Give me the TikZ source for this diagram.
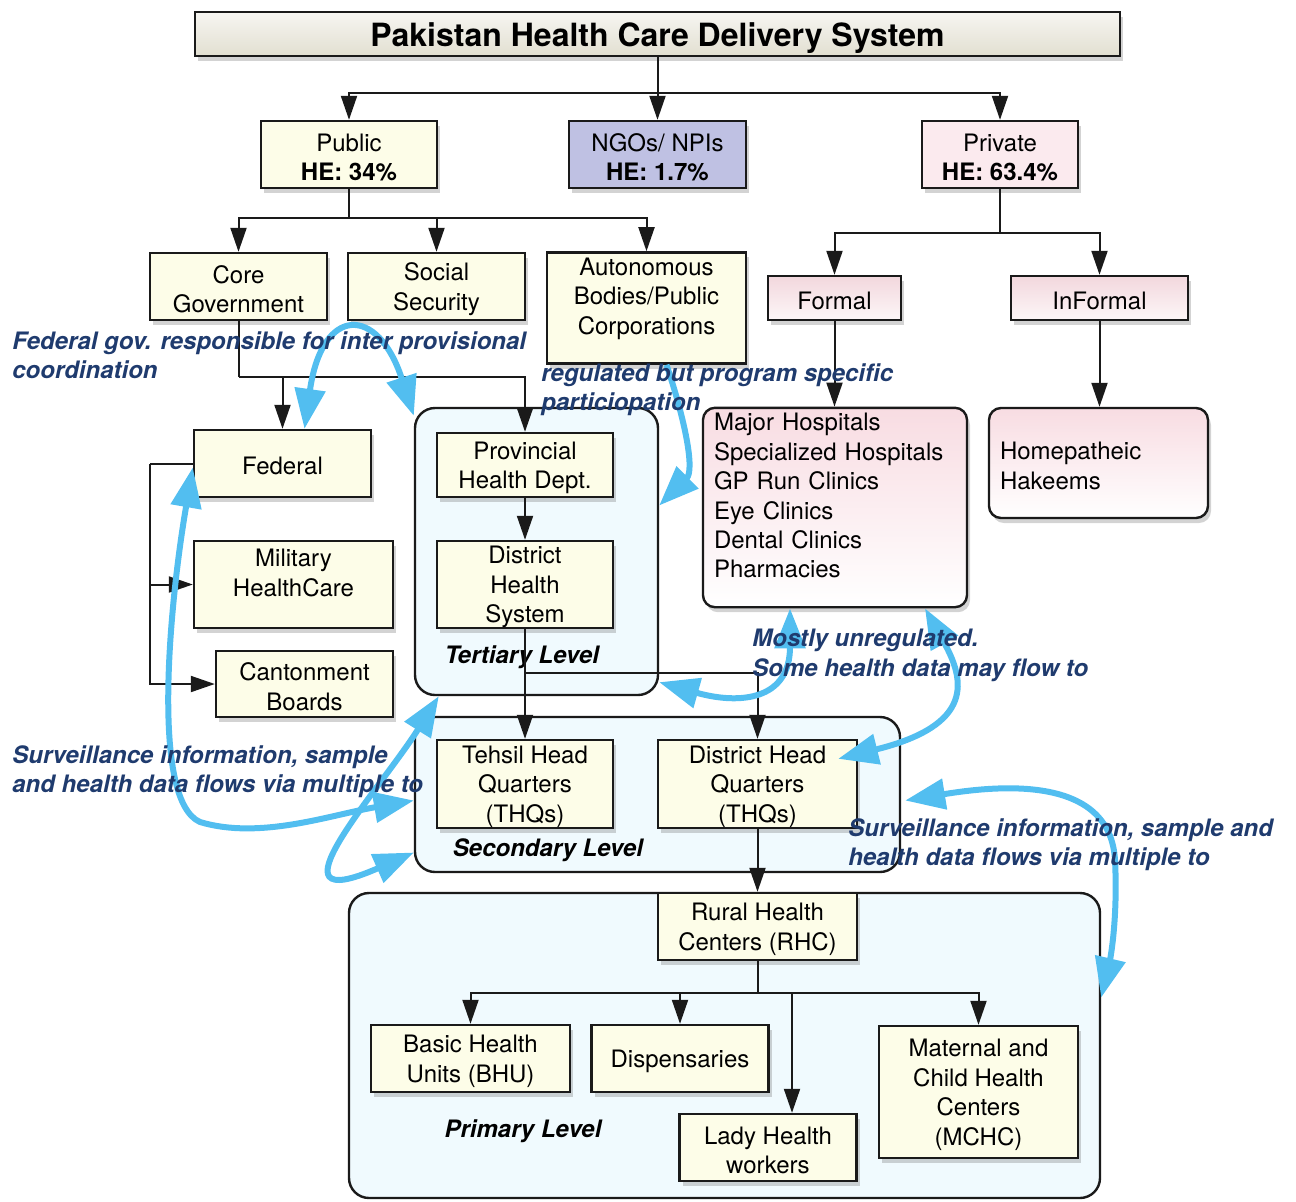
\documentclass[tikz,border=0pt]{standalone}
\usepackage{fontspec}
\setsansfont{TeX Gyre Heros}
\usetikzlibrary{arrows.meta,shadows}
\definecolor{ink}{HTML}{1A1A1A}
\definecolor{ivory}{HTML}{FDFDE8}
\definecolor{lavender}{HTML}{BFC1E3}
\definecolor{blush}{HTML}{F8DCE2}
\definecolor{paleblue}{HTML}{F0FAFE}
\definecolor{sky}{HTML}{52BEF0}
\definecolor{navy}{HTML}{1F3B6E}
\definecolor{sand}{HTML}{E2DFD1}
\newcommand{\lift}{\rule{0pt}{11.5pt}}
\tikzset{
  wh/.style 2 args={minimum width=#1*0.5pt,minimum height=#2*0.5pt},
  base/.style={font=\sffamily\fontsize{12}{14.7}\selectfont,align=center,draw=ink,line width=1.2pt,fill=ivory,inner xsep=2pt,inner ysep=0pt,execute at begin node={\lift},drop shadow={shadow xshift=1.5pt,shadow yshift=-2.5pt,opacity=.35}},
  head/.style={base,font=\sffamily\bfseries\fontsize{16}{19}\selectfont,execute at begin node={\rule{0pt}{16pt}},top color=sand!30,bottom color=sand},
  pinkfill/.style={base,top color=blush!95!gray,bottom color=blush!25},
  pinkbox/.style={base,rounded corners=6pt,top color=blush,bottom color=white,inner xsep=5.5pt,align=left},
  grp/.style={draw=ink,line width=1.2pt,fill=paleblue,rounded corners=10pt,inner sep=0pt},
  lvl/.style={font=\sffamily\bfseries\itshape\fontsize{12}{14.7}\selectfont,inner sep=0pt},
  note/.style={font=\sffamily\bfseries\itshape\fontsize{12}{14.7}\selectfont,text=navy,align=left,anchor=west,inner sep=0pt},
  wire/.style={line width=1pt,draw=ink},
  tree/.style={-{Triangle[length=12pt,width=8pt]},line width=1pt,draw=ink},
  link/.style={{Triangle[length=20pt,width=15pt]}-{Triangle[length=20pt,width=15pt]},line width=3pt,draw=sky},
  link1/.style={-{Triangle[length=20pt,width=15pt]},line width=3pt,draw=sky}
}
\begin{document}
\begin{tikzpicture}[x=0.5pt,y=-0.5pt]
\useasboundingbox (0,0) rectangle (1296,1201);
\node[grp,wh={243}{287}] (tert) at (536.5,551.5) {};
\node[grp,wh={485}{155}] (sec) at (657.5,794.5) {};
\node[grp,wh={751}{305}] (prim) at (724.5,1045.5) {};

\node[head,wh={925}{44}] (title) at (657.5,34) {Pakistan Health Care Delivery System};
\node[base,wh={176}{67}] (public) at (349,154.5) {\lift Public\\\textbf{HE: 34\%}};
\node[base,fill=lavender,wh={177}{67}] (ngo) at (657.5,154.5) {\lift NGOs/ NPIs\\\textbf{HE: 1.7\%}};
\node[base,fill=blush!60,wh={156}{67}] (private) at (1000,154.5) {\lift Private\\\textbf{HE: 63.4\%}};
\node[base,wh={177}{67}] (coregov) at (238.5,286.5) {\lift Core\\Government};
\node[base,wh={177}{67}] (socsec) at (436.5,286.5) {\lift Social\\Security};
\node[base,wh={199}{110}] (auton) at (646.5,308) {\lift Autonomous\\Bodies/Public\\Corporations\\\mbox{}};
\node[pinkfill,wh={133}{44}] (formal) at (834.5,298) {Formal};
\node[pinkfill,wh={177}{44}] (informal) at (1099.5,298) {InFormal};
\node[pinkbox,text width=121pt,wh={264}{199}] (majorhosp) at (835,507.5) {Major Hospitals\\Specialized Hospitals\\GP Run Clinics\\Eye Clinics\\Dental Clinics\\Pharmacies\\\mbox{}};
\node[pinkbox,text width=98.5pt,wh={219}{110}] (homepath) at (1098.5,463) {Homepatheic\\Hakeems};

\node[base,wh={177}{67}] (federal) at (282.5,463.5) {Federal};
\node[base,wh={199}{87}] (military) at (293.5,584.5) {\lift Military\\HealthCare\\\mbox{}};
\node[base,wh={177}{66}] (canton) at (304.5,684) {\lift Cantonment\\Boards};
\node[base,wh={176}{64}] (provhd) at (525,465) {\lift Provincial\\Health Dept.};
\node[base,wh={176}{87}] (dhs) at (525,584.5) {\lift District\\Health\\System};
\node[base,wh={176}{88}] (thq) at (525,784) {\lift Tehsil Head\\Quarters\\(THQs)};
\node[base,wh={199}{88}] (dhq) at (757.5,784) {\lift District Head\\Quarters\\(THQs)};
\node[base,wh={199}{67}] (rhc) at (757.5,926.5) {\lift Rural Health\\Centers (RHC)};
\node[base,wh={199}{67}] (bhu) at (470.5,1058.5) {\lift Basic Health\\Units (BHU)};
\node[base,wh={177}{67}] (disp) at (680,1058.5) {Dispensaries};
\node[base,wh={177}{67}] (lhw) at (768,1147.5) {\lift Lady Health\\workers};
\node[base,wh={199}{132}] (mchc) at (978.5,1092) {\lift Maternal and\\Child Health\\Centers\\(MCHC)};

\node[lvl] (tertlbl) at (522,657) {Tertiary Level};
\node[lvl] (seclbl) at (548,850) {Secondary Level};
\node[lvl] (primlbl) at (523,1131) {Primary Level};

\coordinate (t0) at (657.5,93);
\draw[wire] (title.south) -- (t0);
\draw[tree] (t0) -| (public.north);
\draw[tree] (t0) -- (ngo.north);
\draw[tree] (t0) -| (private.north);
\coordinate (p0) at (349,218);
\draw[wire] (public.south) -- (p0);
\draw[tree] (p0) -| (coregov.north);
\draw[tree] (p0) -| (auton.north);
\draw[tree] (p0 -| socsec.north) -- (socsec.north);
\coordinate (v0) at (1000,233);
\draw[wire] (private.south) -- (v0);
\draw[tree] (v0) -| (formal.north);
\draw[tree] (v0) -| (informal.north);
\draw[tree] (formal.south) -- (formal.south |- majorhosp.north);
\draw[tree] (informal.south) -- (informal.south |- homepath.north);
\coordinate (c0) at (238.5,377);
\draw[wire] (coregov.south) -- (c0);
\draw[tree] (c0) -| (provhd.north);
\draw[tree] (c0 -| federal.north) -- (federal.north);
\coordinate (b0) at (150,463.5);
\draw[wire] (federal.west) -- (b0);
\draw[tree] (b0) |- (canton.west);
\draw[tree] (b0 |- military.west) -- (military.west);
\draw[tree] (provhd) -- (dhs);
\draw[tree] (dhs.south) -- (thq.north);
\coordinate (d0) at (525,673);
\draw[tree] (d0) -| (dhq.north);
\draw[tree] (dhq.south) -- (rhc.north);
\coordinate (r0) at (757.5,993);
\draw[wire] (rhc.south) -- (r0);
\draw[tree] (r0) -| (bhu.north);
\draw[tree] (r0) -| (mchc.north);
\draw[tree] (r0 -| disp.north) -- (disp.north);
\coordinate (r1) at (792,993);
\draw[tree] (r1) -- (r1 |- lhw.north);

\draw[link] ([xshift=11pt]federal.north) .. controls (322,305) and (378,305) .. ([yshift=-4.5pt]tert.north west);
\draw[link1] ([xshift=10pt]auton.south) .. controls (685,420) and (695,470) .. ([yshift=23pt]tert.east);
\draw[link] ([yshift=-2pt]federal.west) .. controls (170,600) and (150,800) .. (200,822) .. controls (260,840) and (330,815) .. ([yshift=-3pt]sec.west);
\draw[link] ([xshift=12.5pt]tert.south west) .. controls (380,790) and (260,920) .. ([yshift=-29pt]sec.west);
\draw[link] ([xshift=-22.5pt]majorhosp.south) .. controls (790,700) and (740,705) .. ([yshift=7pt]tert.south east);
\draw[link] ([xshift=45pt]majorhosp.south) .. controls (965,680) and (975,725) .. ([xshift=-10pt,yshift=-10pt]dhq.north east);
\draw[link] ([xshift=2pt,yshift=-3pt]sec.east) .. controls (1000,785) and (1110,775) .. (1115,860) .. controls (1118,920) and (1110,960) .. ([yshift=24pt]prim.east);

\node[note] (fednote) at (12,355.5) {Federal gov. responsible for inter provisional\\coordination};
\node[note] (regnote) at (541,389.5) {regulated but program specific\\particiopation};
\node[note] (mostnote) at (752,655.5) {Mostly unregulated.\\Some health data may flow to};
\node[note] (survl) at (12,771.5) {Surveillance information, sample\\and health data flows via multiple to};
\node[note] (survr) at (848,844.5) {Surveillance information, sample and\\health data flows via multiple to};
\end{tikzpicture}
\end{document}
